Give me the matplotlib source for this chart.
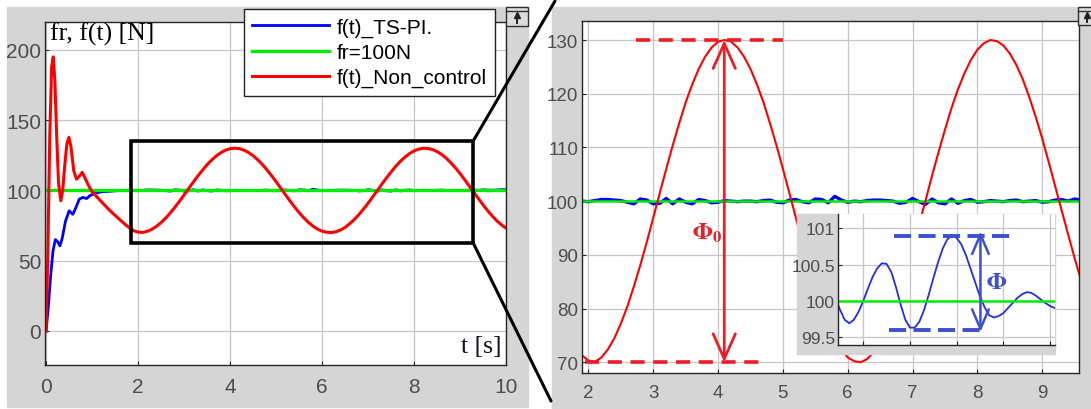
import numpy as np
import matplotlib
matplotlib.use("Agg")
import matplotlib.pyplot as plt
from matplotlib.patches import Rectangle, ConnectionPatch
from matplotlib.lines import Line2D

# ---- data ----
red_t_start = [0.0, 0.04, 0.08, 0.12, 0.155, 0.19, 0.23, 0.27, 0.32, 0.36, 0.40, 0.45,
               0.495, 0.54, 0.60, 0.66, 0.72, 0.785, 0.85, 0.92, 1.0, 1.1, 1.2, 1.3,
               1.4, 1.5, 1.6, 1.7, 1.8, 1.9, 2.0, 2.1]
red_f_start = [0, 60, 140, 188, 195, 178, 138, 105, 92.6, 100, 116, 133,
               137.7, 131, 114, 108, 110, 112.8, 108.5, 103.5, 99, 95.5, 92, 88.5,
               85.2, 82.2, 79.2, 76.3, 73.6, 71.3, 70.3, 70.1]
# samples every 0.1 s from t = 2.2 to t = 10.0
red_f_tail = [70.9, 72.4, 74.5, 77.2, 80.4, 84.1, 88.1, 92.4, 96.9, 101.5,
              106.0, 110.4, 114.5, 118.4, 121.7, 124.6, 126.9, 128.6, 129.7, 130.0,
              129.7, 128.6, 126.9, 124.6, 121.7, 118.4, 114.5, 110.4, 106.0, 101.5,
              96.9, 92.4, 88.1, 84.1, 80.4, 77.2, 74.5, 72.4, 70.9, 70.2,
              70.0, 70.6, 71.9, 73.8, 76.4, 79.4, 83.0, 86.9, 91.1, 95.6,
              100.1, 104.7, 109.1, 113.3, 117.3, 120.8, 123.8, 126.3, 128.2, 129.4,
              130.0, 129.8, 129.0, 127.5, 125.4, 122.7, 119.4, 115.7, 111.7, 107.3,
              102.8, 98.3, 93.8, 89.4, 85.3, 81.5, 78.1, 75.3, 73.0]

blue_t_start = [0, 0.05, 0.1, 0.15, 0.2, 0.25, 0.3, 0.35, 0.42, 0.5, 0.58, 0.65,
                0.72, 0.8, 0.88, 0.95, 1.05, 1.2, 1.4, 1.5]
blue_f_start = [0, 18, 40, 57, 65, 63.5, 60.5, 66, 78, 85.5, 83, 88,
                93.8, 95, 94.2, 96.2, 97.8, 99, 99.4, 99.7]
# samples every 0.1 s from t = 1.6 to t = 10.0
blue_f_tail = [99.9, 100.0, 100.1, 100.0, 99.9, 100.1, 100.3, 100.3, 100.2, 100.1,
               99.8, 99.5, 100.4, 100.2, 99.5, 99.6, 100.5, 99.5, 100.4, 99.8,
               99.5, 100.3, 100.1, 99.7, 99.8, 100.1, 100.0, 99.9, 100.0, 100.0,
               99.9, 100.1, 100.2, 99.8, 99.7, 100.2, 100.3, 99.9, 99.7, 100.4,
               100.3, 99.7, 100.9, 100.2, 99.8, 100.0, 99.9, 100.1, 100.2, 100.2,
               100.1, 100.0, 99.6, 99.8, 100.5, 99.9, 99.4, 100.4, 99.7, 99.5,
               100.4, 99.6, 100.1, 100.3, 99.8, 99.9, 100.1, 100.0, 99.9, 100.1,
               100.2, 99.9, 100.0, 100.1, 99.8, 99.9, 100.2, 100.3, 100.0, 100.4,
               100.2, 100.1, 100.3, 100.5, 100.5]

f_ref = 100

# inset (zoom on the TS-PI ripple), x in grid units
inset_x = [0.465] + [round(0.5 + 0.1 * i, 1) for i in range(47)]
inset_f = [99.94,
           99.88, 99.74, 99.69, 99.74, 99.85, 100.00, 100.17, 100.33, 100.45, 100.52,
           100.51, 100.40, 100.19, 99.95, 99.74, 99.63, 99.63, 99.71, 99.87, 100.08,
           100.31, 100.53, 100.72, 100.85, 100.90, 100.87, 100.78, 100.63, 100.44, 100.25,
           100.06, 99.91, 99.80, 99.77, 99.79, 99.83, 99.90, 99.97, 100.04, 100.09,
           100.12, 100.11, 100.07, 100.02, 99.97, 99.93, 99.90]

red_t = np.array(red_t_start + [round(2.2 + 0.1 * i, 1) for i in range(len(red_f_tail))])
red_f = np.array(red_f_start + red_f_tail)
blue_t = np.array(blue_t_start + [round(1.6 + 0.1 * i, 1) for i in range(len(blue_f_tail))])
blue_f = np.array(blue_f_start + blue_f_tail)

RED = "#ff0000"
GREEN = "#00ee00"
BLUE = "#0000ff"
DRED = "#ee1c25"
IBLUE = "#3d4fcc"
GRAY_BG = "#d5d5d5"
TICK_C = "#4d4d4d"

plt.rcParams["mathtext.fontset"] = "stix"

W, H = 1091, 410
fig = plt.figure(figsize=(W / 100, H / 100), dpi=100)
fig.patch.set_facecolor("white")


def fx(px):
    return px / W


def fy(py):
    return 1 - py / H


def style_axes(ax, size, family):
    ax.grid(True, color="#c6c6c6", lw=0.9)
    ax.set_axisbelow(True)
    for s in ax.spines.values():
        s.set_color("#262626")
        s.set_linewidth(1.0)
    ax.tick_params(direction="in", length=3, width=0.8, colors="#262626",
                   labelcolor=TICK_C, labelsize=size)
    for lab in ax.get_xticklabels() + ax.get_yticklabels():
        lab.set_family(family)


def icon(x0, x1, y0, y1):
    fig.add_artist(Rectangle((fx(x0), fy(y1)), fx(x1) - fx(x0), (y1 - y0) / H,
                             transform=fig.transFigure, facecolor="#dcdcdc",
                             edgecolor="#303030", lw=1, zorder=6))
    fig.add_artist(Line2D([fx(x0), fx(x1)], [fy(y0 + 3.5)] * 2, color="#303030",
                          lw=1, transform=fig.transFigure, zorder=7))
    xc = (x0 + x1) / 2
    fig.add_artist(Line2D([fx(xc), fx(xc)], [fy(y1 - 3), fy(y0 + 7)], color="#202020",
                          lw=1.4, transform=fig.transFigure, zorder=7))
    fig.add_artist(Line2D([fx(xc)], [fy(y0 + 8)], marker="^", ms=5, color="#202020",
                          transform=fig.transFigure, zorder=7))


# gray panel backgrounds
fig.add_artist(Rectangle((fx(7), fy(408)), (528 - 7) / W, (408 - 8) / H,
                         transform=fig.transFigure, color=GRAY_BG, zorder=-2))
fig.add_artist(Rectangle((fx(552), fy(410)), (W - 552) / W, (410 - 8) / H,
                         transform=fig.transFigure, color=GRAY_BG, zorder=-2))

# ---------------- left panel ----------------
axL = fig.add_axes([fx(45.2), fy(365.7), (506.4 - 45.2) / W, (365.7 - 22.7) / H])
axL.plot(blue_t, blue_f, color=BLUE, lw=2.0, label="f(t)_TS-PI.")
axL.plot([0, 10], [f_ref, f_ref], color=GREEN, lw=2.4, label="fr=100N")
axL.plot(red_t, red_f, color=RED, lw=2.2, label="f(t)_Non_control")
axL.set_xlim(-0.02, 10)
axL.set_ylim(-24, 220)
axL.set_xticks([0, 2, 4, 6, 8, 10])
axL.set_yticks([0, 50, 100, 150, 200])
style_axes(axL, 15, "Liberation Sans")
axL.tick_params(axis="x", pad=9)
axL.tick_params(axis="y", pad=3)

leg = axL.legend(loc="upper right", bbox_to_anchor=(fx(495), fy(10)),
                 bbox_transform=fig.transFigure, borderaxespad=0, fancybox=False,
                 framealpha=1, edgecolor="#222222", fontsize=15, handlelength=3.7,
                 handletextpad=0.35, labelspacing=0.3, borderpad=0.4,
                 prop={"family": "Liberation Sans", "size": 15})
leg.get_frame().set_linewidth(1.0)
leg.set_zorder(8)

fig.text(fx(50), fy(23), "fr, f(t) [N]", family="Liberation Serif", fontsize=18.5,
         ha="left", va="top", color="black")
fig.text(fx(501.5), fy(347), "t [s]", family="Liberation Serif", fontsize=18.5,
         ha="right", va="center", color="#101020")

# zoom rectangle and connector lines
rx0, rx1, ry0, ry1 = 1.85, 9.28, 62.5, 135.2
axL.add_patch(Rectangle((rx0, ry0), rx1 - rx0, ry1 - ry0, fill=False, edgecolor="black",
                        lw=2.6, zorder=5, clip_on=False))
for ya, pb in [(ry1, (555, 2)), (ry0, (551, 402))]:
    con = ConnectionPatch(xyA=(rx1, ya), coordsA="data", axesA=axL,
                          xyB=(fx(pb[0]), fy(pb[1])), coordsB="figure fraction",
                          color="black", lw=2.2, zorder=10)
    fig.add_artist(con)

icon(506, 528, 8, 27)

# ---------------- right panel ----------------
axR = fig.add_axes([fx(581.6), fy(374), (1078.8 - 581.6) / W, (374 - 21.7) / H])
axR.plot(blue_t, blue_f, color=BLUE, lw=2.4)
axR.plot([0, 10], [f_ref, f_ref], color=GREEN, lw=1.8)
axR.plot(red_t, red_f, color=RED, lw=1.5)
axR.set_xlim(1.894, 9.565)
axR.set_ylim(68.0, 133.6)
axR.set_xticks(range(2, 10))
axR.set_yticks(range(70, 131, 10))
style_axes(axR, 13.5, ["Liberation Sans Narrow", "Liberation Sans"])
axR.tick_params(axis="x", pad=8)
axR.tick_params(axis="y", pad=2.5)

dash_red = (0, (3.9, 2.4))
axR.plot([2.73, 5.0], [130, 130], color=DRED, lw=2.6, linestyle=dash_red)
axR.plot([1.95, 4.75], [70, 70], color=DRED, lw=2.6, linestyle=dash_red)
axR.annotate("", xy=(4.095, 130), xytext=(4.095, 70),
             arrowprops=dict(arrowstyle="<->,head_length=1.8,head_width=0.8",
                             color=DRED, lw=2.0, shrinkA=0, shrinkB=0,
                             mutation_scale=10))
axR.text(3.83, 94.3, r"$\mathbf{\Phi_0}$", color=DRED, fontsize=17,
         ha="center", va="center")

icon(1078, 1096, 8, 26)

# ---------------- inset ----------------
fig.add_artist(Rectangle((fx(797), fy(355)), (1055 - 797) / W, (355 - 215) / H,
                         transform=fig.transFigure, color=GRAY_BG, zorder=2))
axI = fig.add_axes([fx(838.3), fy(346), (1055 - 838.3) / W, (346 - 215) / H])
axI.set_zorder(3)
axI.plot(inset_x, inset_f, color="#1f2ef0", lw=1.3)
axI.plot([0, 6], [f_ref, f_ref], color=GREEN, lw=1.8)
axI.set_xlim(0.465, 5.107)
axI.set_ylim(99.39, 101.2)
axI.set_xticks([1, 2, 3, 4, 5])
axI.set_xticklabels([])
axI.set_yticks([99.5, 100, 100.5, 101])
axI.set_yticklabels(["99.5", "100", "100.5", "101"])
style_axes(axI, 12.5, ["Liberation Sans Narrow", "Liberation Sans"])
axI.spines["top"].set_visible(False)
axI.spines["right"].set_visible(False)
axI.tick_params(axis="y", pad=2.5)

dash_blue = (0, (4.4, 1.9))
axI.plot([1.66, 4.2], [100.9, 100.9], color=IBLUE, lw=2.8, linestyle=dash_blue)
axI.plot([1.56, 3.64], [99.6, 99.6], color=IBLUE, lw=2.8, linestyle=dash_blue)
axI.annotate("", xy=(3.51, 100.96), xytext=(3.51, 99.57),
             arrowprops=dict(arrowstyle="<->,head_length=1.4,head_width=0.6",
                             color=IBLUE, lw=1.8, shrinkA=0, shrinkB=0,
                             mutation_scale=10),
             annotation_clip=False)
axI.text(3.85, 100.27, r"$\mathbf{\Phi}$", color=IBLUE, fontsize=17,
         ha="center", va="center")

fig.savefig("out.png", dpi=100)
plt.close(fig)
